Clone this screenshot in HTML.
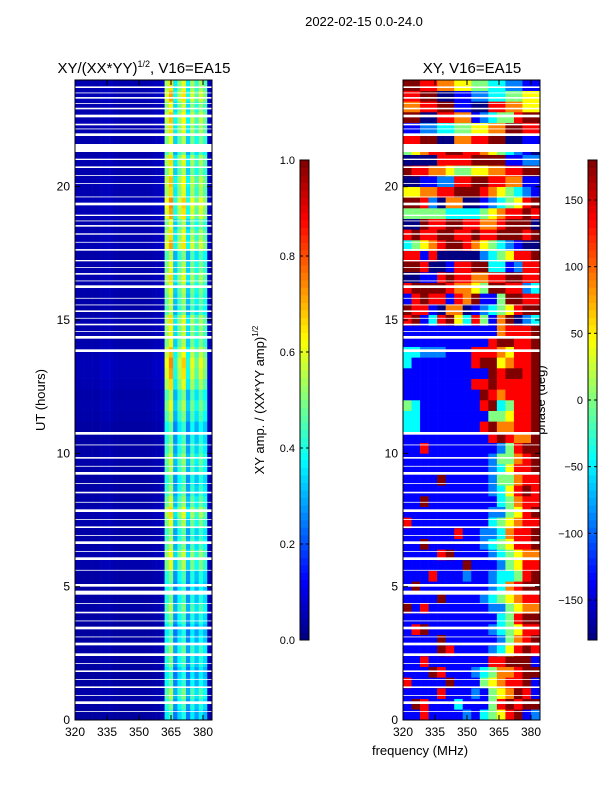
<!DOCTYPE html>
<html><head><meta charset="utf-8"><style>
body{margin:0;background:#fff;font-family:"Liberation Sans",sans-serif}
svg text{font-family:"Liberation Sans",sans-serif;fill:#000}
</style></head><body>
<svg id="fig" width="600" height="800" viewBox="0 0 600 800" xmlns="http://www.w3.org/2000/svg">
<text x="364" y="26" font-size="13" text-anchor="middle">2022-02-15 0.0-24.0</text>
<text x="144" y="73" font-size="15" text-anchor="middle">XY/(XX*YY)<tspan font-size="9" dy="-6">1/2</tspan><tspan dy="6">, V16=EA15</tspan></text>
<text x="472" y="73" font-size="15" text-anchor="middle">XY, V16=EA15</text>
<text x="45" y="400" font-size="13" text-anchor="middle" transform="rotate(-90 45 400)">UT (hours)</text>
<text x="420" y="755" font-size="13" text-anchor="middle">frequency (MHz)</text>
<text x="264" y="400" font-size="13" text-anchor="middle" transform="rotate(-90 264 400)">XY amp. / (XX*YY amp)<tspan font-size="8" dy="-6">1/2</tspan></text>
<text x="545" y="400" font-size="13" text-anchor="middle" transform="rotate(-90 545 400)">phase (deg)</text>
<g id="left"></g><g id="right"></g><g id="cb1"></g><g id="cb2"></g>
</svg>
<script>
// ---- data ----
const hourTicks=[0,5,10,15,20];
const freqTicks=[320,335,350,365,380];
const ampTicks=[0.0,0.2,0.4,0.6,0.8,1.0];
const phaseTicks=[-150,-100,-50,0,50,100,150];
const ampFreqBins=[320,322,324,326,328,330,332,334,336,338,340,342,344,346,348,350,352,354,356,358,360,362,364,366,368,370,372,374,376,378,380,382];
const ampColProfile=[0.04,0.04,0.04,0.04,0.04,0.04,0.05,0.05,0.05,0.04,0.04,0.04,0.04,0.04,0.04,0.04,0.04,0.04,0.05,0.05,0.06,0.45,0.55,0.3,0.42,0.5,0.3,0.45,0.35,0.45,0.38,0.06];
const ampRowScale=[0.8,0.9,1.0,0.85,0.8,0.9,0.95,0.85,0.8,0.9,1.0,0.9,0.85,0.9,1.1,1.15,1.0,0.95,1.1,1.2,1.05,0.95,0.9,1.0,1.05,0.95,0.9,0.85,1.0,1.1,1.0,1.2,1.3,1.35,1.25,1.1,1.15,1.2,1.0,1.05,1.1,1.2,1.1,1.0,1.3,1.2,1.1,1.3,1.35,1.2,1.25,1.1,1.2,1.0,1.1,1.2,1.25,1.15,1.3,1.2];
const phaseFreqBins=[320,324,328,332,336,340,344,348,352,356,360,364,368,372,376,380];
// row i covers hours [0.4*i, 0.4*i+0.4]; char k -> phase -180+45*k
const phaseRows=[
"1171111213457812","1871113111478788","1111711121456871","7111181114567781","1118711123466788","1171111111778881","1111871111235787",
"1111811111124678","1781111111234577","1111111111134788","8171111111224566","1111811112345677","1811111111236788","1117111211233478","1111111811124577",
"1111781111234566","1181111112345778","1111117112236778","7111111111345677","1111111111224578","1181111111134677","1111111111235787","1111811111244677",
"1111111111235778","1111111111244678","1171111111124788","1111111111787668","3311111117866778","3311111111445778","4311111117834778",
"1111111118767778","1111111177877778","1111111111878878","3111111178856778","3322211177765778","1111111111788778","1111111111167778",
"7813785374168023","8771066012345788","1787717681148877","7888876654887723","0011787766778877","8870017788331277","7717000002345778",
"3456788765432100","7877887787788878","0087788776678880","4444433334567787","8872066001234578","5566778887654321","0011227788776611",
"8776654455667788","0000777788881122","4567788776543210","7788006677880011","1122334455668877","8800776612344788","6677881100776655",
"7788001122334455","8877665544332211"];
const flagBands=[[23.7,23.76],[23.5,23.53],[23.3,23.36],[23.1,23.13],[22.9,22.96],[22.6,22.7],[22.3,22.36],[22.15,22.18],[21.9,22.0],[21.3,21.6],[21.0,21.05],[20.7,20.76],[20.4,20.43],[20.1,20.13],[19.6,19.63],[19.3,19.4],[18.9,18.95],[18.7,18.73],[18.5,18.56],[18.2,18.25],[17.9,17.93],[17.6,17.66],[17.2,17.25],[16.95,16.98],[16.7,16.76],[16.45,16.48],[16.2,16.3],[15.8,15.83],[15.55,15.58],[15.3,15.36],[15.05,15.08],[14.8,14.86],[14.55,14.58],[14.3,14.4],[13.8,13.9],[10.7,10.8],[10.3,10.33],[9.8,9.86],[9.5,9.53],[9.2,9.3],[8.85,8.88],[8.5,8.56],[8.15,8.18],[7.8,7.9],[7.5,7.53],[7.2,7.26],[6.9,6.93],[6.6,6.7],[6.3,6.33],[6.0,6.1],[5.6,5.63],[5.0,5.1],[4.7,4.85],[4.35,4.38],[4.0,4.06],[3.7,3.73],[3.4,3.5],[3.1,3.13],[2.8,2.9],[2.4,2.5],[2.1,2.13],[1.8,1.86],[1.5,1.53],[1.2,1.26],[0.9,0.93],[0.6,0.7],[0.3,0.33]];

// ---- helpers ----
const NS="http://www.w3.org/2000/svg";
function mk(tag,parent,attrs){const e=document.createElementNS(NS,tag);for(const k in attrs)e.setAttribute(k,attrs[k]);parent.appendChild(e);return e;}
function jet(v){v=Math.max(0,Math.min(1,v));
 const r=Math.max(0,Math.min(1,1.5-Math.abs(4*v-3))),g=Math.max(0,Math.min(1,1.5-Math.abs(4*v-2))),b=Math.max(0,Math.min(1,1.5-Math.abs(4*v-1)));
 return `rgb(${Math.round(r*255)},${Math.round(g*255)},${Math.round(b*255)})`;}
const Y0=720,Y1=80;
const yScale=h=>Y0-(h/24)*(Y0-Y1);
function panel(gid,x0,kind){
 const g=document.getElementById(gid);
 const xScale=f=>x0+(f-320)*(128/60);
 const xEnd=x0+137;
 if(kind==='amp'){
  for(let r=0;r<ampRowScale.length;r++){
   for(let c=0;c<ampFreqBins.length;c++){
    const f0=ampFreqBins[c],f1=c+1<ampFreqBins.length?ampFreqBins[c+1]:384.2;
    const el=mk('rect',g,{x:xScale(f0),y:yScale(0.4*r+0.4),width:xScale(f1)-xScale(f0)+0.3,height:yScale(0.4*r)-yScale(0.4*r+0.4)+0.3,fill:jet(ampColProfile[c]*ampRowScale[r])});
    
    
   }
  }
 } else {
  for(let r=0;r<phaseRows.length;r++){
   for(let c=0;c<phaseFreqBins.length;c++){
    const f0=phaseFreqBins[c],f1=c+1<phaseFreqBins.length?phaseFreqBins[c+1]:384.2;
    const ph=-180+45*parseInt(phaseRows[r][c]);
    const el=mk('rect',g,{x:xScale(f0),y:yScale(0.4*r+0.4),width:xScale(f1)-xScale(f0)+0.3,height:yScale(0.4*r)-yScale(0.4*r+0.4)+0.3,fill:jet((ph+180)/360)});
    
    
   }
  }
 }
 for(const b of flagBands){
  const el=mk('rect',g,{x:x0,y:yScale(b[1]),width:137,height:yScale(b[0])-yScale(b[1]),fill:'#fff'});
  
  
 }
 const fr=mk('rect',g,{x:x0,y:Y1,width:137,height:Y0-Y1,fill:'none',stroke:'#000','stroke-width':1});
 
 
 for(const h of hourTicks){
  const y=yScale(h);
  mk('line',g,{x1:x0,x2:x0+5,y1:y,y2:y,stroke:'#000'});
  mk('line',g,{x1:xEnd-5,x2:xEnd,y1:y,y2:y,stroke:'#000'});
  const t=mk('text',g,{x:x0-5,y:y+4,'font-size':12,'text-anchor':'end'});t.textContent=h;
  
  
 }
 for(const f of freqTicks){
  const x=xScale(f);
  mk('line',g,{x1:x,x2:x,y1:Y0,y2:Y0-5,stroke:'#000'});
  mk('line',g,{x1:x,x2:x,y1:Y1,y2:Y1+5,stroke:'#000'});
  const t=mk('text',g,{x:x,y:Y0+16,'font-size':12,'text-anchor':'middle'});t.textContent=f;
  
  
 }
}
panel('left',75,'amp');
panel('right',403,'phase');
function colorbar(gid,x,ticks,lo,hi,fmt){
 const g=document.getElementById(gid);
 const top=160,bot=640,n=64;
 for(let i=0;i<n;i++){
  const el=mk('rect',g,{x:x,y:bot-(i+1)*(bot-top)/n,width:9,height:(bot-top)/n+0.4,fill:jet((i+0.5)/n)});
  
  
 }
 const fr=mk('rect',g,{x:x,y:top,width:9,height:bot-top,fill:'none',stroke:'#000'});
 
 
 for(const v of ticks){
  const y=bot-(v-lo)/(hi-lo)*(bot-top);
  mk('line',g,{x1:x,x2:x+3,y1:y,y2:y,stroke:'#000'});
  mk('line',g,{x1:x+6,x2:x+9,y1:y,y2:y,stroke:'#000'});
  const t=mk('text',g,{x:x-5,y:y+4,'font-size':11,'text-anchor':'end'});t.textContent=fmt(v);
  
  
 }
}
colorbar('cb1',300,ampTicks,0,1,v=>v.toFixed(1));
colorbar('cb2',588,phaseTicks,-180,180,v=>v<0?'\u2212'+(-v):''+v);
</script>
</body></html>
